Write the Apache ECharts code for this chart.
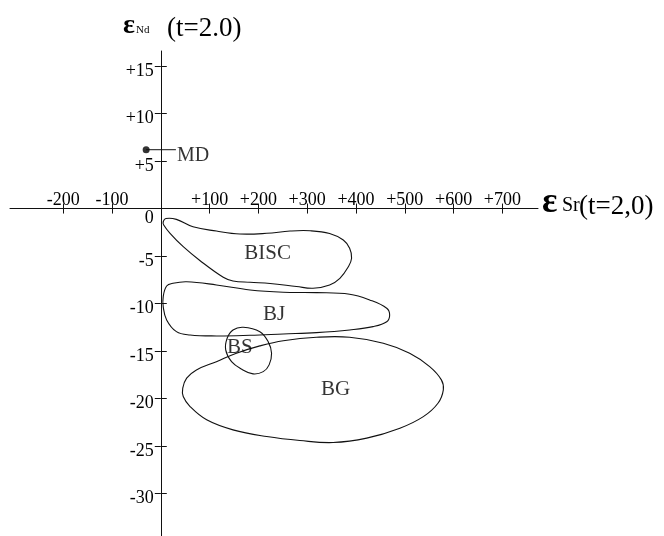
<!DOCTYPE html>
<html><head><meta charset="utf-8">
<script src="https://cdn.jsdelivr.net/npm/echarts@6/dist/echarts.min.js"></script>
<style>html,body{margin:0;padding:0;background:#fff}#c{width:664px;height:536px}</style>
</head><body><div id="c"></div>
<script>
// Axis ranges and ticks
const xRange = [-309, 773];
const yRange = [-34.5, 16.6];
const xTicks = [-200, -100, 100, 200, 300, 400, 500, 600, 700];
const yTicks = [15, 10, 5, -5, -10, -15, -20, -25, -30];
const yLabelValues = [15, 10, 5, 0, -5, -10, -15, -20, -25, -30];

// MD point and its leader line
const mdPoint = [[-30, 6.2]];
const mdLeader = [[-30, 6.2], [31, 6.2]];
const mdLabel = [[33, 5.6]];

// Field labels
const fieldNames = ['BISC', 'BJ', 'BS', 'BG'];
const fieldLabelPos = [[219, -4.7], [232, -11.2], [162, -14.6], [358, -19.1]];

// Field outlines (εSr, εNd)
const bisc = [[5,-1.39],[10.5,-1.05],[32,-1.14],[66,-1.92],[114,-2.37],[162,-2.68],[217,-2.61],[265,-2.37],[306,-2.34],[346,-2.63],[374,-3.32],[387,-4.19],[391,-5.24],[384,-6.16],[367,-7.35],[346,-8.05],[312,-8.4],[278,-8.21],[224,-7.89],[183,-7.77],[148,-7.63],[128,-7.24],[80,-5.47],[46,-4.02],[19,-2.61],[6,-1.74]];
const bj = [[5,-9.28],[12,-8.16],[25,-7.87],[53,-7.71],[114,-8.05],[183,-8.58],[251,-8.82],[319,-8.86],[387,-9.03],[428,-9.63],[463,-10.5],[469,-11.21],[463,-11.92],[435,-12.44],[387,-12.79],[319,-13.07],[251,-13.21],[183,-13.35],[114,-13.42],[60,-13.32],[32,-12.97],[12,-11.74],[5,-10.34]];
const bs = [[169,-12.51],[203,-12.97],[220,-14.02],[227,-15.24],[222,-16.47],[210,-17.18],[189,-17.42],[166,-16.93],[145,-16.13],[133,-14.89],[136,-13.66],[148,-12.79]];
const bg = [[45,-18.93],[53,-17.87],[73,-17.0],[114,-16.13],[155,-15.24],[203,-14.47],[251,-13.92],[319,-13.56],[387,-13.56],[456,-14.19],[510,-15.24],[551,-16.65],[575,-18.05],[579,-19.1],[568,-20.51],[538,-21.92],[490,-23.14],[422,-24.19],[353,-24.65],[285,-24.44],[217,-24.02],[148,-23.32],[94,-22.26],[60,-20.86],[46,-19.81]];

const FONT = '"Liberation Serif","Times New Roman",serif';
const INK = '#000';
const signed = v => v > 0 ? '+' + v : String(v);

// Plot box
const G = { left: 10, top: 51, width: 528, height: 485 };
const x0 = G.left + (0 - xRange[0]) / (xRange[1] - xRange[0]) * G.width;
const y0 = G.top + (yRange[1] - 0) / (yRange[1] - yRange[0]) * G.height;

function outline(pts) {
  return {
    type: 'custom', coordinateSystem: 'cartesian2d', xAxisIndex: 0, yAxisIndex: 0,
    data: [pts[0]], silent: true, clip: false,
    renderItem: function (params, api) {
      return {
        type: 'polygon',
        shape: { points: pts.map(p => api.coord(p)), smooth: 0.4 },
        style: { fill: 'none', stroke: '#111', lineWidth: 1.1 }
      };
    }
  };
}
const hiddenX = gi => ({ gridIndex: gi, type: 'value', show: false, min: xRange[0], max: xRange[1] });
const hiddenY = gi => ({ gridIndex: gi, type: 'value', show: false, min: yRange[0], max: yRange[1] });

const chart = echarts.init(document.getElementById('c'), null, { renderer: 'canvas' });
chart.setOption({
  animation: false,
  backgroundColor: '#fff',
  grid: [
    { left: G.left, top: G.top, width: G.width, height: G.height, outerBoundsMode: 'none', containLabel: false },
    { left: G.left, top: y0, width: G.width, height: G.top + G.height - y0, outerBoundsMode: 'none', containLabel: false },
    { left: G.left, top: G.top, width: G.width, height: y0 - G.top, outerBoundsMode: 'none', containLabel: false },
    { left: x0, top: G.top, width: G.left + G.width - x0, height: G.height, outerBoundsMode: 'none', containLabel: false },
    { left: G.left, top: G.top, width: x0 - G.left, height: G.height, outerBoundsMode: 'none', containLabel: false }
  ],
  xAxis: [
    hiddenX(0),
    { gridIndex: 1, type: 'value', min: xRange[0], max: xRange[1], position: 'top',
      axisLine: { show: true, onZero: false, lineStyle: { color: '#111', width: 1 } },
      axisTick: { show: true, customValues: xTicks, length: 5, lineStyle: { color: '#111' } },
      axisLabel: { customValues: xTicks, formatter: signed, margin: -1, fontSize: 18, fontFamily: FONT, color: INK },
      splitLine: { show: false } },
    { gridIndex: 2, type: 'value', min: xRange[0], max: xRange[1], position: 'bottom',
      axisLine: { show: false, onZero: false },
      axisTick: { show: true, customValues: xTicks, length: 5, lineStyle: { color: '#111' } },
      axisLabel: { show: false }, splitLine: { show: false } },
    hiddenX(3),
    hiddenX(4)
  ],
  yAxis: [
    hiddenY(0),
    hiddenY(1),
    hiddenY(2),
    { gridIndex: 3, type: 'value', min: yRange[0], max: yRange[1], position: 'left',
      axisLine: { show: true, onZero: false, lineStyle: { color: '#111', width: 1 } },
      axisTick: { show: true, customValues: yTicks, length: 6, lineStyle: { color: '#111' } },
      axisLabel: { customValues: yLabelValues, margin: 7, fontSize: 18, fontFamily: FONT, color: INK,
        padding: [10, 0, 0, 0],
        formatter: v => v === 0 ? '{z|0}' : signed(v),
        rich: { z: { fontSize: 18, fontFamily: FONT, color: INK, padding: [10, 0, 0, 0] } } },
      splitLine: { show: false } },
    { gridIndex: 4, type: 'value', min: yRange[0], max: yRange[1], position: 'right',
      axisLine: { show: false, onZero: false },
      axisTick: { show: true, customValues: yTicks, length: 6, lineStyle: { color: '#111' } },
      axisLabel: { show: false }, splitLine: { show: false } }
  ],
  series: [
    outline(bisc), outline(bj), outline(bs), outline(bg),
    { type: 'line', data: mdLeader, symbol: 'none', silent: true,
      lineStyle: { color: '#111', width: 1 } },
    { type: 'scatter', data: mdPoint, symbolSize: 7, itemStyle: { color: INK }, silent: true },
    { type: 'scatter', data: mdLabel, symbolSize: 0, silent: true,
      label: { show: true, position: 'right', distance: 0, formatter: 'MD', fontSize: 20, fontFamily: FONT, color: INK } },
    { type: 'scatter', symbolSize: 0, silent: true,
      data: fieldNames.map((n, i) => ({ name: n, value: fieldLabelPos[i] })),
      label: { show: true, position: 'inside', formatter: '{b}', fontSize: 21, fontFamily: FONT, color: INK } }
  ],
  graphic: [
    { type: 'text', x: 123, y: 26, style: { text: 'ε', fontSize: 28, fontWeight: 'bold', fontFamily: FONT, fill: INK, align: 'left', verticalAlign: 'middle' } },
    { type: 'text', x: 136, y: 30, style: { text: 'Nd', fontSize: 11, fontFamily: FONT, fill: INK, align: 'left', verticalAlign: 'middle' } },
    { type: 'text', x: 167, y: 29, style: { text: '(t=2.0)', fontSize: 27, fontFamily: FONT, fill: INK, align: 'left', verticalAlign: 'middle' } },
    { type: 'text', x: 542, y: 203, style: { text: 'ε', fontSize: 36, fontWeight: 'bold', fontFamily: FONT, fill: INK, align: 'left', verticalAlign: 'middle' } },
    { type: 'text', x: 562, y: 206, style: { text: 'Sr', fontSize: 20, fontFamily: FONT, fill: INK, align: 'left', verticalAlign: 'middle' } },
    { type: 'text', x: 579, y: 207, style: { text: '(t=2,0)', fontSize: 27, fontFamily: FONT, fill: INK, align: 'left', verticalAlign: 'middle' } }
  ]
});
</script></body></html>
